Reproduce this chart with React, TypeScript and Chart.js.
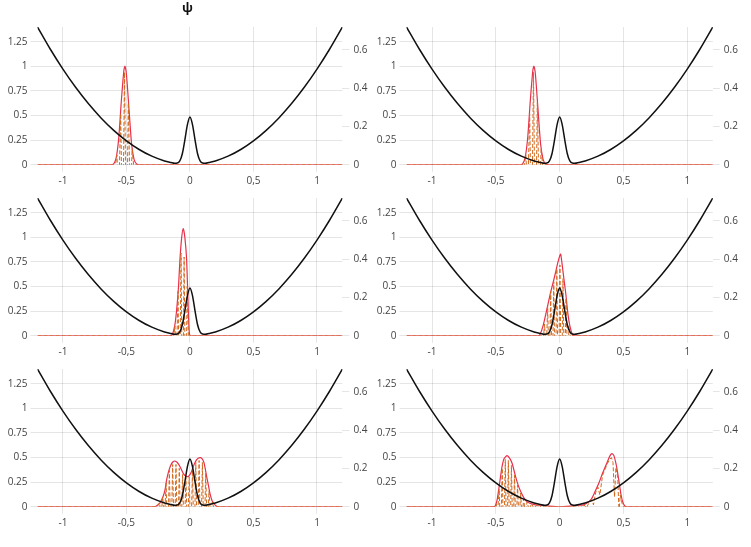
import React, { useEffect, useRef } from 'react';
import { Chart, registerables } from 'chart.js';

Chart.register(...registerables);

type Pt = [number, number];

// tick positions
const X_TICKS = [-1, -0.5, 0, 0.5, 1];
const PSI_TICKS = [0, 0.25, 0.5, 0.75, 1, 1.25];
const V_TICKS = [0, 0.2, 0.4, 0.6];

// potential (right axis), same in every panel
const POTENTIAL: Pt[] = [
  [-1.2, 0.72], [-1.1, 0.605], [-1.0, 0.5], [-0.9, 0.405], [-0.8, 0.32], [-0.7, 0.245],
  [-0.6, 0.18], [-0.5, 0.125], [-0.4, 0.08], [-0.3, 0.045], [-0.2, 0.02], [-0.15, 0.012],
  [-0.12, 0.008], [-0.1, 0.009], [-0.08, 0.02], [-0.06, 0.058], [-0.04, 0.13], [-0.02, 0.21],
  [0, 0.25],
  [0.02, 0.21], [0.04, 0.13], [0.06, 0.058], [0.08, 0.02], [0.1, 0.009], [0.12, 0.008],
  [0.15, 0.012], [0.2, 0.02], [0.3, 0.045], [0.4, 0.08], [0.5, 0.125], [0.6, 0.18],
  [0.7, 0.245], [0.8, 0.32], [0.9, 0.405], [1.0, 0.5], [1.1, 0.605], [1.2, 0.72],
];

// |psi| and Re(psi), one pair per snapshot (left axis)
const ABS_1: Pt[] = [
  [-1.2, 0], [-0.62, 0], [-0.6, 0.01], [-0.58, 0.076], [-0.56, 0.28], [-0.54, 0.65],
  [-0.52, 0.96], [-0.512, 1.0], [-0.5, 0.92], [-0.48, 0.57], [-0.46, 0.22], [-0.44, 0.056],
  [-0.42, 0.009], [-0.4, 0], [1.2, 0],
];
const RE_1: Pt[] = [
  [-1.2, 0], [-0.6, 0], [-0.59, -0.03], [-0.575, 0.1], [-0.56, -0.28], [-0.545, 0.52],
  [-0.53, -0.83], [-0.515, 0.94], [-0.5, -0.92], [-0.485, 0.63], [-0.47, -0.37],
  [-0.455, 0.16], [-0.44, -0.05], [-0.43, 0], [1.2, 0],
];

const ABS_2: Pt[] = [
  [-1.2, 0], [-0.31, 0], [-0.29, 0.01], [-0.27, 0.076], [-0.25, 0.28], [-0.23, 0.65],
  [-0.21, 0.96], [-0.202, 1.0], [-0.19, 0.92], [-0.17, 0.57], [-0.15, 0.22], [-0.13, 0.056],
  [-0.11, 0.009], [-0.09, 0], [1.2, 0],
];
const RE_2: Pt[] = [
  [-1.2, 0], [-0.29, 0], [-0.28, -0.03], [-0.265, 0.1], [-0.25, -0.28], [-0.235, 0.52],
  [-0.22, -0.83], [-0.205, 0.94], [-0.19, -0.92], [-0.175, 0.63], [-0.16, -0.37],
  [-0.145, 0.16], [-0.13, -0.05], [-0.12, 0], [1.2, 0],
];

const ABS_3: Pt[] = [
  [-1.2, 0], [-0.16, 0], [-0.14, 0.01], [-0.12, 0.1], [-0.105, 0.26], [-0.09, 0.5],
  [-0.079, 0.77], [-0.065, 1.0], [-0.053, 1.09], [-0.04, 1.0], [-0.026, 0.77],
  [-0.013, 0.26], [-0.005, 0.03], [0.005, 0], [1.2, 0],
];
const RE_3: Pt[] = [
  [-1.2, 0], [-0.14, 0], [-0.13, -0.03], [-0.118, 0.1], [-0.106, -0.25], [-0.094, 0.45],
  [-0.082, -0.7], [-0.07, 0.84], [-0.058, -1.0], [-0.046, 0.8], [-0.034, -0.85],
  [-0.022, 0.5], [-0.01, -0.15], [0, 0], [1.2, 0],
];

const ABS_4: Pt[] = [
  [-1.2, 0], [-0.17, 0], [-0.155, 0.01], [-0.13, 0.1], [-0.1, 0.27], [-0.071, 0.44],
  [-0.04, 0.6], [-0.015, 0.74], [0, 0.81], [0.008, 0.83], [0.02, 0.72], [0.035, 0.56],
  [0.047, 0.44], [0.065, 0.22], [0.08, 0.1], [0.1, 0.01], [0.115, 0], [1.2, 0],
];
const RE_4: Pt[] = [
  [-1.2, 0], [-0.14, 0], [-0.13, -0.06], [-0.118, 0.12], [-0.106, -0.22], [-0.094, 0.3],
  [-0.082, -0.38], [-0.07, 0.45], [-0.058, -0.5], [-0.046, 0.55], [-0.034, -0.62],
  [-0.022, 0.68], [-0.01, -0.75], [0.002, 0.72], [0.014, -0.7], [0.026, 0.58],
  [0.038, -0.5], [0.05, 0.38], [0.062, -0.24], [0.074, 0.1], [0.086, -0.03], [0.1, 0],
  [1.2, 0],
];

const ABS_5: Pt[] = [
  [-1.2, 0], [-0.28, 0], [-0.262, 0.01], [-0.236, 0.04], [-0.21, 0.11], [-0.195, 0.18],
  [-0.184, 0.27], [-0.17, 0.35], [-0.152, 0.42], [-0.135, 0.455], [-0.118, 0.465],
  [-0.1, 0.45], [-0.079, 0.41], [-0.053, 0.34], [-0.03, 0.31], [-0.01, 0.31], [0.01, 0.35],
  [0.026, 0.41], [0.053, 0.48], [0.079, 0.5], [0.095, 0.49], [0.11, 0.45], [0.12, 0.39],
  [0.131, 0.31], [0.145, 0.22], [0.157, 0.14], [0.175, 0.06], [0.197, 0.02], [0.22, 0],
  [1.2, 0],
];
const RE_5: Pt[] = [
  [-1.2, 0], [-0.26, 0], [-0.24, 0.04], [-0.227, -0.08], [-0.214, 0.1], [-0.201, -0.15],
  [-0.188, 0.24], [-0.175, -0.34], [-0.162, 0.37], [-0.149, -0.42], [-0.136, 0.43],
  [-0.123, -0.46], [-0.11, 0.43], [-0.097, -0.44], [-0.084, 0.39], [-0.071, -0.38],
  [-0.058, 0.33], [-0.045, -0.32], [-0.032, 0.3], [-0.019, -0.3], [-0.006, 0.3],
  [0.007, -0.33], [0.02, 0.37], [0.033, -0.43], [0.046, 0.45], [0.059, -0.48],
  [0.072, 0.47], [0.085, -0.49], [0.098, 0.45], [0.111, -0.43], [0.124, 0.34],
  [0.137, -0.25], [0.15, 0.16], [0.163, -0.09], [0.176, 0.05], [0.19, -0.02], [0.205, 0],
  [1.2, 0],
];

const ABS_6: Pt[] = [
  [-1.2, 0], [-0.52, 0], [-0.504, 0.01], [-0.49, 0.07], [-0.478, 0.17], [-0.465, 0.29],
  [-0.451, 0.41], [-0.435, 0.49], [-0.412, 0.52], [-0.39, 0.49], [-0.372, 0.44],
  [-0.346, 0.31], [-0.325, 0.22], [-0.307, 0.16], [-0.28, 0.09], [-0.254, 0.05],
  [-0.22, 0.03], [-0.19, 0.02], [-0.14, 0.015], [-0.1, 0.01], [-0.06, 0.005], [-0.02, 0],
  [0.02, 0], [0.06, 0.005], [0.1, 0.01], [0.14, 0.015], [0.19, 0.02], [0.218, 0.04],
  [0.25, 0.08], [0.283, 0.17], [0.31, 0.25], [0.336, 0.34], [0.375, 0.46], [0.395, 0.52],
  [0.41, 0.54], [0.425, 0.52], [0.441, 0.44], [0.455, 0.34], [0.467, 0.24], [0.48, 0.13],
  [0.494, 0.05], [0.51, 0.01], [0.525, 0], [1.2, 0],
];
const RE_6: Pt[] = [
  [-1.2, 0], [-0.51, 0], [-0.498, 0.03], [-0.486, -0.06], [-0.474, 0.18], [-0.462, -0.3],
  [-0.45, 0.39], [-0.438, -0.47], [-0.426, 0.48], [-0.414, -0.5], [-0.402, 0.47],
  [-0.39, -0.47], [-0.378, 0.42], [-0.366, -0.38], [-0.354, 0.32], [-0.342, -0.28],
  [-0.33, 0.22], [-0.318, -0.18], [-0.306, 0.14], [-0.294, -0.11], [-0.282, 0.08],
  [-0.27, -0.06], [-0.255, 0.05], [-0.24, -0.03], [-0.22, 0.03], [-0.2, -0.02],
  [-0.18, 0.02], [-0.16, -0.01], [-0.14, 0.015], [-0.12, 0], [-0.1, 0],
  [0.1, 0], [0.13, 0.01], [0.16, -0.01], [0.19, 0.02], [0.21, -0.01], [0.23, 0.04],
  [0.25, 0.07], [0.265, 0.02], [0.283, 0.15], [0.3, 0.2], [0.315, 0.12], [0.336, 0.32],
  [0.355, 0.38], [0.375, 0.44], [0.39, 0.48], [0.405, 0.5], [0.418, 0.45], [0.43, 0.1],
  [0.441, 0.4], [0.455, 0.3], [0.465, -0.05], [0.475, 0.12], [0.49, 0.03], [0.5, 0],
  [1.2, 0],
];

const SNAPSHOTS: { abs: Pt[]; re: Pt[] }[] = [
  { abs: ABS_1, re: RE_1 },
  { abs: ABS_2, re: RE_2 },
  { abs: ABS_3, re: RE_3 },
  { abs: ABS_4, re: RE_4 },
  { abs: ABS_5, re: RE_5 },
  { abs: ABS_6, re: RE_6 },
];

const FONT = { family: '"Open Sans", "Noto Sans", sans-serif', size: 10 };
const TICK_COLOR = '#444';
const GRID_COLOR = 'rgba(0,0,0,0.1)';

const ROW_H = 171.2;
const CANVAS_H = 190;

const toXY = (pts: Pt[]) => pts.map(([x, y]) => ({ x, y }));

const Panel: React.FC<{ index: number }> = ({ index }) => {
  const canvasRef = useRef<HTMLCanvasElement>(null);
  const col = index % 2;
  const row = Math.floor(index / 2);
  const left = col === 0 ? 0 : 375;
  const width = col === 0 ? 375 : 376;
  const leftAxisW = col === 0 ? 37.5 : 31.5;
  const rightAxisW = col === 0 ? 32.6 : 38.2;

  useEffect(() => {
    const ctx = canvasRef.current?.getContext('2d');
    if (!ctx) return;
    const snap = SNAPSHOTS[index];

    const chart = new Chart(ctx, {
      type: 'line',
      data: {
        datasets: [
          {
            data: toXY(POTENTIAL),
            yAxisID: 'y1',
            borderColor: '#111',
            borderWidth: 1.5,
            pointRadius: 0,
            cubicInterpolationMode: 'monotone',
          },
          {
            data: toXY(snap.re),
            yAxisID: 'y',
            borderColor: '#d2691e',
            borderWidth: 1,
            borderDash: [4, 2],
            pointRadius: 0,
          },
          {
            data: toXY(snap.abs),
            yAxisID: 'y',
            borderColor: '#e8304a',
            borderWidth: 1.2,
            pointRadius: 0,
            tension: 0.2,
          },
        ],
      },
      options: {
        animation: false,
        responsive: true,
        maintainAspectRatio: false,
        events: [],
        layout: { padding: { top: index === 0 ? 0 : 27, left: 0, right: 0, bottom: 0 } },
        plugins: {
          legend: { display: false },
          tooltip: { enabled: false },
          title: {
            display: index === 0,
            text: 'ψ',
            color: '#111',
            font: { family: '"Open Sans", "DejaVu Sans", sans-serif', size: 13, weight: 'bold' },
            padding: { top: 0, bottom: 11.4 },
          },
        },
        scales: {
          x: {
            type: 'linear',
            min: -1.2,
            max: 1.2,
            afterBuildTicks: (s: any) => {
              s.ticks = X_TICKS.map((v) => ({ value: v }));
            },
            afterFit: (s: any) => {
              s.height = 25.2;
            },
            grid: { color: GRID_COLOR, tickLength: 7 },
            border: { display: false },
            ticks: {
              font: FONT,
              color: TICK_COLOR,
              padding: 3,
              maxRotation: 0,
              minRotation: 0,
              autoSkip: false,
              callback: (v: any) => String(v).replace('.', ','),
            },
          },
          y: {
            type: 'linear',
            position: 'left',
            min: 0,
            max: 1.4,
            afterBuildTicks: (s: any) => {
              s.ticks = PSI_TICKS.map((v) => ({ value: v }));
            },
            afterFit: (s: any) => {
              s.width = leftAxisW;
            },
            grid: { color: GRID_COLOR, tickLength: 7 },
            border: { display: false },
            ticks: { font: FONT, color: TICK_COLOR, padding: 3, callback: (v: any) => String(v) },
          },
          y1: {
            type: 'linear',
            position: 'right',
            min: 0,
            max: 0.72,
            afterBuildTicks: (s: any) => {
              s.ticks = V_TICKS.map((v) => ({ value: v }));
            },
            afterFit: (s: any) => {
              s.width = rightAxisW;
            },
            grid: { color: GRID_COLOR, tickLength: 7, drawOnChartArea: false },
            border: { display: false },
            ticks: { font: FONT, color: TICK_COLOR, padding: 4, callback: (v: any) => String(v) },
          },
        },
      } as any,
    });

    return () => {
      chart.destroy();
    };
  }, [index]);

  return (
    <div
      style={{
        position: 'absolute',
        left,
        top: Math.round(row * ROW_H),
        width,
        height: CANVAS_H,
      }}
    >
      <canvas ref={canvasRef} />
    </div>
  );
};

const App: React.FC = () => {
  return (
    <div style={{ position: 'absolute', left: 0, top: 0, width: 751, height: 547, background: '#fff' }}>
      {SNAPSHOTS.map((_, i) => (
        <Panel key={i} index={i} />
      ))}
    </div>
  );
};

export default App;
